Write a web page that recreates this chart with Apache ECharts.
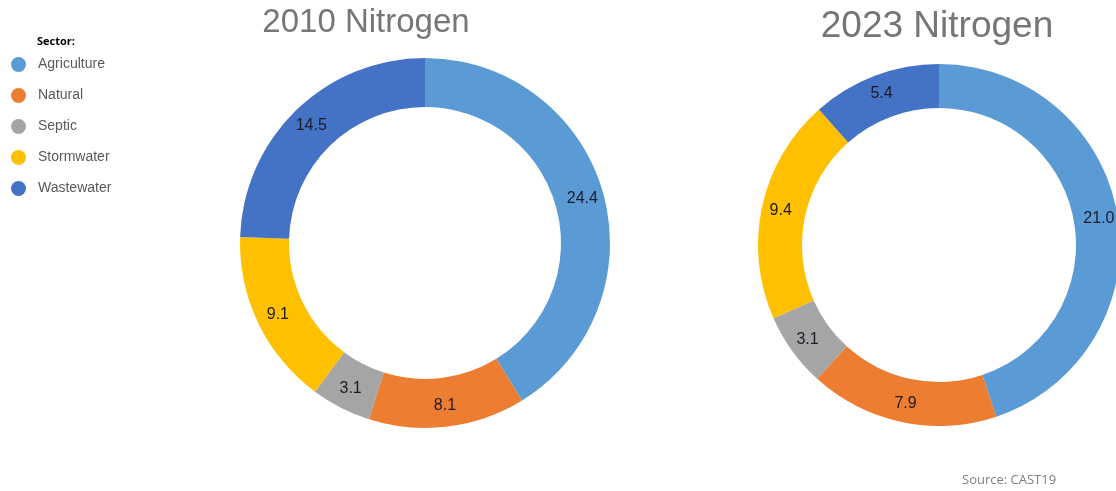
<!DOCTYPE html>
<html>
<head>
<meta charset="utf-8">
<script src="https://cdn.jsdelivr.net/npm/echarts@6/dist/echarts.min.js"></script>
<style>html,body{margin:0;padding:0;background:#fff}#c{width:1116px;height:491px}</style>
</head>
<body>
<div id="c"></div>
<script>
const sectors = ['Agriculture', 'Natural', 'Septic', 'Stormwater', 'Wastewater'];
const values2010 = [24.4, 8.1, 3.1, 9.1, 14.5];
const values2023 = [21.0, 7.9, 3.1, 9.4, 5.4];
const colors = ['#5B9BD5', '#ED7D31', '#A5A5A5', '#FFC000', '#4472C4'];

const chart = echarts.init(document.getElementById('c'), null, {renderer: 'canvas'});
const font = '"Liberation Sans", Arial, sans-serif';
function pieSeries(name, vals, cx, cy, rIn, rOut) {
  return {
    type: 'pie', name: name,
    center: [cx, cy], radius: [rIn, rOut],
    startAngle: 90, clockwise: true,
    avoidLabelOverlap: false,
    silent: true,
    itemStyle: {borderWidth: 0},
    label: {show: true, position: 'inside', color: '#1c1c28', fontSize: 16, fontFamily: font,
      formatter: p => p.value.toFixed(1)},
    labelLine: {show: false},
    emphasis: {disabled: true},
    data: sectors.map((s, i) => ({name: s, value: vals[i]}))
  };
}
chart.setOption({
  animation: false,
  color: colors,
  title: [
    {text: '2010 Nitrogen', left: 361, top: 1, textAlign: 'center',
      textStyle: {fontSize: 33, fontWeight: 'normal', color: '#767676', fontFamily: font}},
    {text: '2023 Nitrogen', left: 932, top: 3, textAlign: 'center',
      textStyle: {fontSize: 37, fontWeight: 'normal', color: '#767676', fontFamily: font}},
    {text: 'Sector:', left: 32, top: 31,
      textStyle: {fontSize: 11, fontWeight: 'bold', color: '#000', fontFamily: '"Open Sans", sans-serif'}},
    {text: 'Source: CAST19', left: 957, top: 469,
      textStyle: {fontSize: 13, fontWeight: 'normal', color: '#7f7f7f', fontFamily: '"Open Sans", sans-serif'}}
  ],
  legend: {
    orient: 'vertical', left: 6, top: 52,
    icon: 'circle', itemWidth: 15, itemHeight: 15, itemGap: 16,
    data: sectors,
    textStyle: {fontSize: 14, color: '#595959', fontFamily: font, padding: [0, 0, 0, 7]},
    selectedMode: false
  },
  series: [
    pieSeries('2010', values2010, 425, 243, 136, 185),
    pieSeries('2023', values2023, 939, 245, 137, 181)
  ]
});
</script>
</body>
</html>
